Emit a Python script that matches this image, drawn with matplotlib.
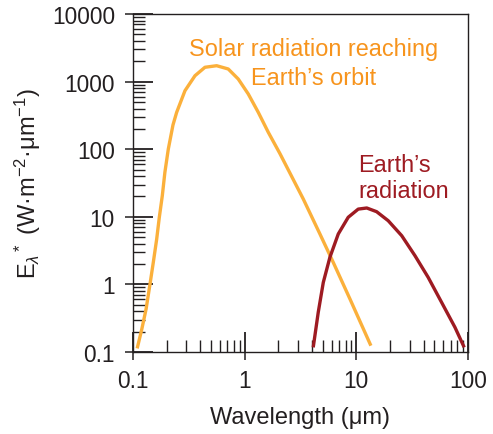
import numpy as np
import matplotlib
matplotlib.use("Agg")
from matplotlib import pyplot as plt
from matplotlib.ticker import LogLocator, NullFormatter, FixedLocator, FixedFormatter

# values (wavelength in um, E in W m-2 um-1)
solar_wl = [0.109, 0.120, 0.131, 0.142, 0.152, 0.163, 0.172, 0.183, 0.193, 0.207, 0.228,
            0.246, 0.292, 0.359, 0.441, 0.561, 0.713, 0.876, 1.077, 1.324, 1.627,
            2.07, 3.35, 4.72, 6.21, 8.77, 13.5]
solar_E = [0.113, 0.219, 0.433, 1.01, 2.12, 4.69, 9.8, 20.5, 45.5, 100, 228,
           351, 733, 1222, 1629, 1718, 1536, 1092, 656, 351, 178,
           86, 18.3, 5.57, 2.12, 0.608, 0.124]
earth_wl = [4.11, 4.56, 5.06, 5.80, 6.89, 8.46, 10.4, 12.4, 15.2, 19.3, 25.5, 33.5, 44.0, 58.0, 76.4, 92.5]
earth_E = [0.117, 0.387, 1.07, 2.52, 5.57, 9.84, 13.0, 13.5, 11.9, 8.75, 5.25, 2.66, 1.27, 0.543, 0.232, 0.117]

x_ticks = [0.1, 1, 10, 100]
x_labels = ["0.1", "1", "10", "100"]
y_ticks = [0.1, 1, 10, 100, 1000, 10000]
y_labels = ["0.1", "1", "10", "100", "1000", "10000"]

ORANGE = "#FBB03B"
ORANGE_TXT = "#F7941D"
DARKRED = "#9E1B22"
INK = "#231F20"

plt.rcParams['font.family'] = ['Liberation Sans', 'DejaVu Sans']
plt.rcParams['mathtext.fontset'] = 'custom'
plt.rcParams['mathtext.rm'] = 'Liberation Sans'
plt.rcParams['mathtext.it'] = 'Liberation Sans:italic'

fig = plt.figure(figsize=(4.93, 4.35), dpi=100)
ax = fig.add_axes([133/493, 82/435, 335/493, 338/435])

ax.plot(solar_wl, solar_E, color=ORANGE, lw=2.4, solid_capstyle='butt', solid_joinstyle='round')
ax.plot(earth_wl, earth_E, color=DARKRED, lw=2.4, solid_capstyle='butt', solid_joinstyle='round')

ax.set_xscale('log')
ax.set_yscale('log')
ax.set_xlim(0.1, 100)
ax.set_ylim(0.1, 10000)

for s in ax.spines.values():
    s.set_color(INK)
    s.set_linewidth(1.0)

# outward stubs + labels on the main axis
ax.xaxis.set_major_locator(FixedLocator(x_ticks))
ax.xaxis.set_major_formatter(FixedFormatter(x_labels))
ax.yaxis.set_major_locator(FixedLocator(y_ticks))
ax.yaxis.set_major_formatter(FixedFormatter(y_labels))
ax.xaxis.set_minor_locator(LogLocator(base=10, subs=np.arange(2, 10)))
ax.yaxis.set_minor_locator(LogLocator(base=10, subs=np.arange(2, 10)))
ax.xaxis.set_minor_formatter(NullFormatter())
ax.yaxis.set_minor_formatter(NullFormatter())
ax.tick_params(which='major', direction='out', length=6, width=1.1, color=INK,
               labelsize=16.3, labelcolor=INK)
ax.tick_params(axis='x', which='major', pad=6)
ax.tick_params(axis='y', which='major', pad=7)
ax.tick_params(which='minor', direction='in', length=8.6, width=1.0, color=INK)

# long inward major ticks
for side, axis in (('bottom', 'x'), ('left', 'y')):
    if axis == 'x':
        sec = ax.secondary_xaxis(side)
        sec.xaxis.set_major_locator(FixedLocator(x_ticks))
    else:
        sec = ax.secondary_yaxis(side)
        sec.yaxis.set_major_locator(FixedLocator(y_ticks))
    sec.tick_params(which='major', direction='in', length=14.4, width=1.3, color=INK, labelsize=0)
    sec.tick_params(which='minor', length=0)
    sec.spines[side].set_visible(False)
    if axis == 'x':
        sec.set_xticklabels([])
    else:
        sec.set_yticklabels([])

ax.set_xlabel("Wavelength (μm)", fontsize=17, color=INK, labelpad=10)
ax.set_ylabel(r"E$_\lambda$$^*$ (W·m$^{-2}$·μm$^{-1}$)", fontsize=17, color=INK, labelpad=6)

ax.text(0.540, 0.879, "Solar radiation reaching", transform=ax.transAxes,
        ha='center', va='baseline', fontsize=16.9, color=ORANGE_TXT)
ax.text(0.540, 0.793, "Earth’s orbit", transform=ax.transAxes,
        ha='center', va='baseline', fontsize=16.9, color=ORANGE_TXT)
ax.text(0.672, 0.536, "Earth’s", transform=ax.transAxes,
        ha='left', va='baseline', fontsize=16.9, color=DARKRED)
ax.text(0.672, 0.458, "radiation", transform=ax.transAxes,
        ha='left', va='baseline', fontsize=16.9, color=DARKRED)

fig.savefig("out.png", dpi=100)
